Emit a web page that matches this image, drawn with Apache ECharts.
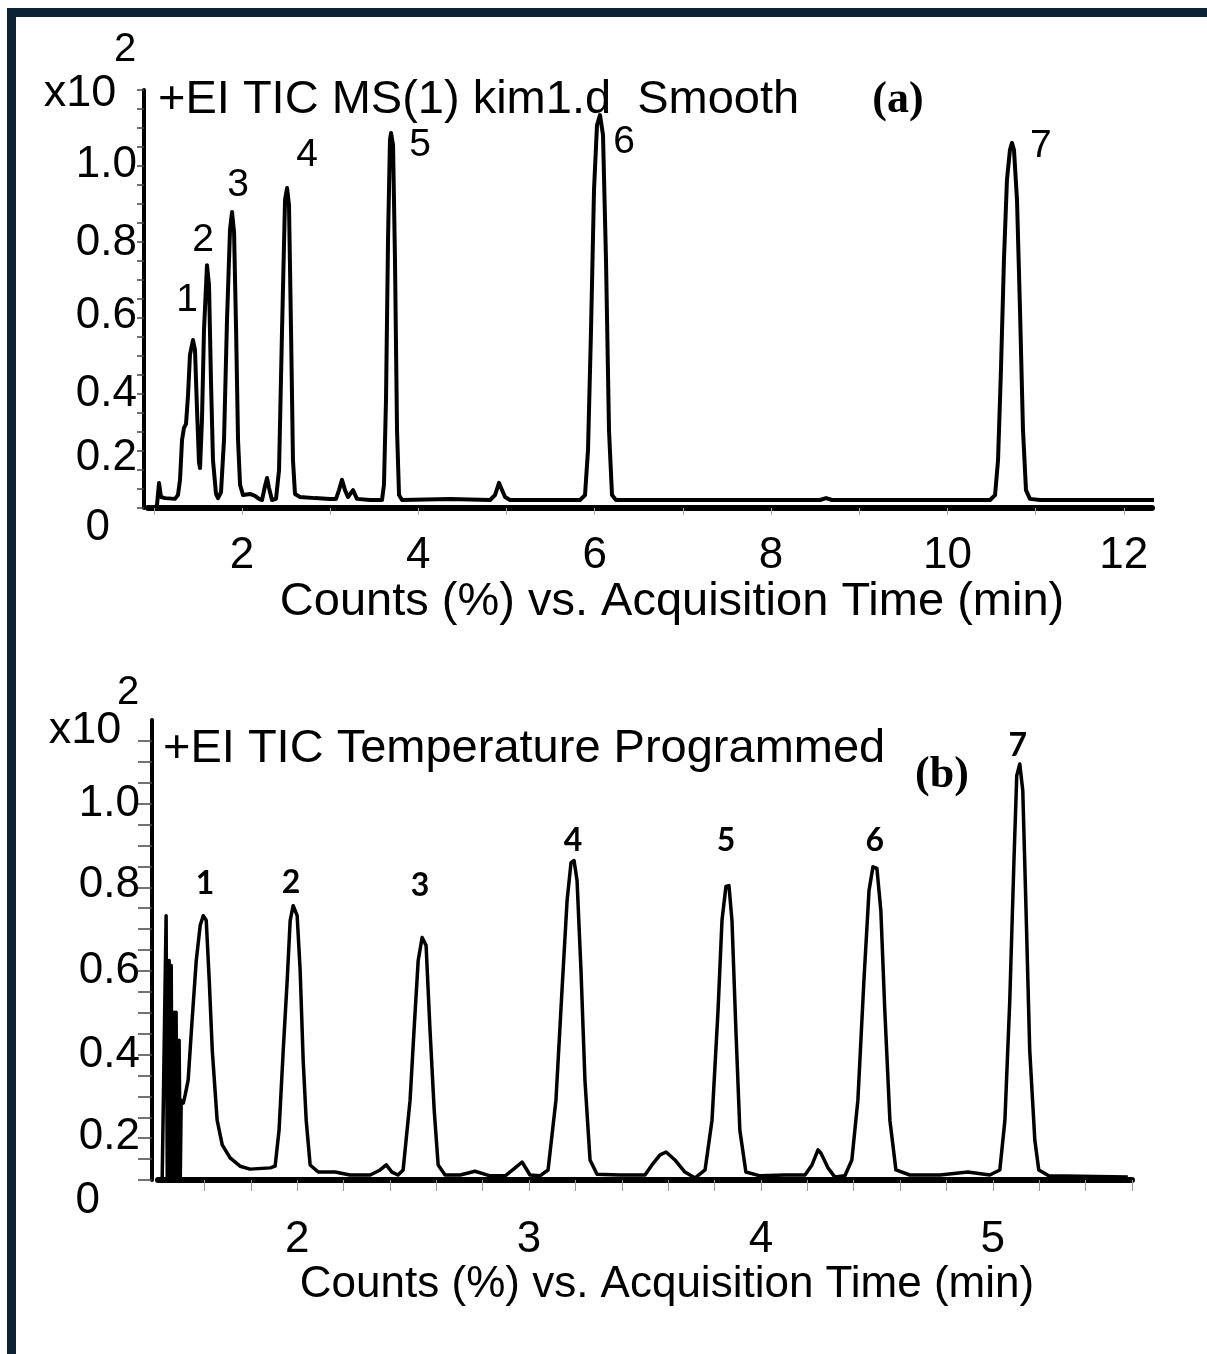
<!DOCTYPE html>
<html><head><meta charset="utf-8">
<script src="https://cdn.jsdelivr.net/npm/echarts@6/dist/echarts.min.js"></script>
<style>html,body{margin:0;padding:0;background:#fff}#c{width:1207px;height:1354px}</style>
</head><body><div id="c"></div>
<script>
// ---------- Panel (a) data ----------
const timeA = [1.013,1.036,1.059,1.081,1.127,1.240,1.274,1.297,1.320,1.342,1.365,1.388,1.410,1.444,1.467,1.490,1.512,1.524,1.546,1.569,1.603,1.626,1.648,1.671,1.705,1.728,1.762,1.796,1.830,1.864,1.887,1.910,1.933,1.955,1.978,2.012,2.091,2.147,2.193,2.227,2.261,2.284,2.306,2.340,2.386,2.420,2.454,2.488,2.511,2.533,2.556,2.578,2.601,2.658,2.828,2.998,3.066,3.100,3.134,3.168,3.202,3.259,3.304,3.451,3.588,3.610,3.633,3.656,3.678,3.690,3.713,3.735,3.758,3.781,3.815,4.359,4.813,4.869,4.915,4.937,4.983,5.039,5.833,5.890,5.924,5.958,5.992,6.026,6.060,6.094,6.128,6.162,6.196,6.241,7.194,8.555,8.623,8.691,10.483,10.540,10.574,10.607,10.641,10.675,10.709,10.732,10.755,10.789,10.823,10.857,10.891,10.936,11.050,12.376];
const valueA = [0.000,0.008,0.066,0.029,0.026,0.024,0.034,0.074,0.179,0.211,0.221,0.297,0.403,0.442,0.416,0.258,0.121,0.105,0.232,0.468,0.639,0.587,0.337,0.126,0.037,0.026,0.042,0.179,0.495,0.732,0.779,0.726,0.468,0.179,0.061,0.034,0.037,0.032,0.024,0.021,0.058,0.079,0.053,0.021,0.024,0.100,0.468,0.811,0.842,0.797,0.468,0.126,0.037,0.029,0.026,0.024,0.024,0.047,0.074,0.047,0.029,0.047,0.024,0.021,0.021,0.061,0.284,0.705,0.968,0.987,0.955,0.653,0.205,0.034,0.021,0.024,0.021,0.034,0.066,0.063,0.029,0.021,0.021,0.034,0.153,0.468,0.837,1.008,1.034,0.982,0.653,0.205,0.034,0.021,0.021,0.021,0.026,0.021,0.021,0.034,0.126,0.363,0.653,0.863,0.942,0.961,0.942,0.811,0.521,0.205,0.047,0.024,0.021,0.021];
const peakNamesA = ['1','2','3','4','5','6','7'];
const peakLabelTimeA = [1.376,1.558,1.955,2.737,4.019,6.332,11.06];
const peakLabelValueA = [0.547,0.705,0.850,0.929,0.955,0.963,0.953];
const xTickLabelsA = [2,4,6,8,10,12];
const xMinorTicksA = [1,2,3,4,5,6,7,8,9,10,11,12];
const yTickLabelsA = ['0','0.2','0.4','0.6','0.8','1.0'];
const yTickValuesA = [0,0.2,0.4,0.6,0.8,1.0];
const yMinorTicksA = [0,0.05,0.1,0.15,0.2,0.25,0.3,0.35,0.4,0.45,0.5,0.55,0.6,0.65,0.7,0.75,0.8,0.85,0.9,0.95,1.0,1.05,1.1];

// ---------- Panel (b) data ----------
const timeB = [1.418,1.435,1.440,1.448,1.453,1.457,1.461,1.470,1.474,1.478,1.483,1.491,1.496,1.500,1.509,1.517,1.530,1.547,1.565,1.582,1.595,1.608,1.621,1.634,1.655,1.677,1.711,1.754,1.797,1.884,1.905,1.922,1.940,1.957,1.970,1.983,2.000,2.013,2.026,2.039,2.056,2.091,2.164,2.228,2.315,2.358,2.384,2.409,2.435,2.457,2.487,2.504,2.522,2.539,2.556,2.573,2.591,2.608,2.638,2.703,2.767,2.832,2.897,2.940,2.970,3.004,3.047,3.082,3.116,3.142,3.164,3.181,3.194,3.207,3.224,3.241,3.263,3.293,3.392,3.500,3.530,3.565,3.591,3.629,3.672,3.716,3.759,3.789,3.815,3.832,3.849,3.862,3.875,3.892,3.909,3.935,3.996,4.103,4.190,4.220,4.246,4.259,4.289,4.319,4.362,4.392,4.418,4.444,4.466,4.483,4.500,4.517,4.534,4.556,4.582,4.642,4.772,4.892,4.987,5.030,5.052,5.073,5.091,5.103,5.116,5.129,5.142,5.159,5.181,5.198,5.241,5.582];
const valueB = [0.000,0.632,0.000,0.525,0.000,0.513,0.000,0.401,0.000,0.401,0.000,0.334,0.000,0.191,0.184,0.203,0.239,0.382,0.525,0.609,0.632,0.621,0.477,0.310,0.143,0.084,0.053,0.033,0.026,0.029,0.033,0.119,0.310,0.477,0.621,0.656,0.632,0.501,0.286,0.143,0.036,0.019,0.019,0.012,0.012,0.024,0.036,0.019,0.012,0.024,0.191,0.358,0.525,0.580,0.561,0.358,0.167,0.036,0.012,0.012,0.021,0.010,0.010,0.029,0.043,0.012,0.010,0.024,0.191,0.453,0.668,0.759,0.764,0.716,0.501,0.239,0.048,0.014,0.012,0.012,0.036,0.060,0.067,0.048,0.019,0.005,0.024,0.143,0.406,0.621,0.702,0.704,0.621,0.358,0.119,0.019,0.010,0.012,0.012,0.036,0.072,0.064,0.029,0.007,0.010,0.048,0.191,0.477,0.692,0.749,0.745,0.644,0.406,0.143,0.024,0.012,0.012,0.019,0.012,0.024,0.143,0.430,0.764,0.967,0.995,0.931,0.668,0.310,0.095,0.024,0.010,0.007];
const peakNamesB = ['1','2','3','4','5','6','7'];
const peakLabelTimeB = [1.603,1.974,2.530,3.190,3.849,4.491,5.108];
const peakLabelValueB = [0.709,0.711,0.704,0.811,0.811,0.811,1.038];
const xTickLabelsB = [2,3,4,5];
const xMinorTicksB = [1.6,1.8,2.0,2.2,2.4,2.6,2.8,3.0,3.2,3.4,3.6,3.8,4.0,4.2,4.4,4.6,4.8,5.0,5.2,5.4,5.6];
const yTickLabelsB = ['0','0.2','0.4','0.6','0.8','1.0'];
const yTickValuesB = [0,0.2,0.4,0.6,0.8,1.0];
const yMinorTicksB = [0,0.05,0.1,0.15,0.2,0.25,0.3,0.35,0.4,0.45,0.5,0.55,0.6,0.65,0.7,0.75,0.8,0.85,0.9,0.95,1.0,1.05];

const titleA = '+EI TIC MS(1) kim1.d  Smooth';
const titleB = '+EI TIC Temperature Programmed';
const xNameText = 'Counts (%) vs. Acquisition Time (min)';

// ---------- build ----------
const SANS = '"Liberation Sans", Arial, sans-serif';
const zip = (a, b) => a.map((v, i) => [v, b[i]]);
const zip3 = (a, b, c) => a.map((v, i) => [v, b[i], c[i]]);

function yLabelRich(pads) {
  const r = {};
  pads.forEach((p, i) => { r['r' + i] = { fontFamily: SANS, fontSize: 44, color: '#000', padding: p }; });
  return r;
}
function yFormatter(values, labels) {
  return v => {
    let i = values.findIndex(x => Math.abs(x - v) < 1e-6);
    if (i < 0) return '';
    return '{r' + i + '|' + labels[i] + '}';
  };
}

const chart = echarts.init(document.getElementById('c'), null, { renderer: 'canvas' });
const option = {
  animation: false,
  backgroundColor: '#fff',
  title: [
    { text: titleA, left: 153, top: 72, textStyle: { fontFamily: SANS, fontSize: 47, fontWeight: 'normal', color: '#000' } },
    { text: titleB, left: 158, top: 721, textStyle: { fontFamily: SANS, fontSize: 47, fontWeight: 'normal', color: '#000' } }
  ],
  grid: [
    { left: 148, right: 55, top: 90, bottom: 846 },
    { left: 158, right: 75, top: 720, bottom: 174 }
  ],
  xAxis: [
    {
      gridIndex: 0, type: 'value', min: 0.934, max: 12.32, offset: 5,
      splitLine: { show: false },
      axisLine: { lineStyle: { color: '#000', width: 6 } },
      axisTick: { show: true, customValues: xMinorTicksA, length: 7, lineStyle: { color: '#aaa', width: 1 } },
      axisLabel: { customValues: xTickLabelsA, margin: 21, fontFamily: SANS, fontSize: 44, color: '#000' },
      name: xNameText, nameLocation: 'middle', nameGap: 62,
      nameTextStyle: { fontFamily: SANS, fontSize: 47, color: '#000', padding: [0, 0, 0, 44] }
    },
    {
      gridIndex: 1, type: 'value', min: 1.4, max: 5.6,
      splitLine: { show: false },
      axisLine: { lineStyle: { color: '#000', width: 6 } },
      axisTick: { show: true, customValues: xMinorTicksB, length: 11, lineStyle: { color: '#999', width: 1 } },
      axisLabel: { customValues: xTickLabelsB, margin: 38, fontFamily: SANS, fontSize: 44, color: '#000' },
      name: xNameText, nameLocation: 'middle', nameGap: 82,
      nameTextStyle: { fontFamily: SANS, fontSize: 44, color: '#000', padding: [0, 0, 0, 44] }
    }
  ],
  yAxis: [
    {
      gridIndex: 0, type: 'value', min: 0, max: 1.1, offset: 4,
      splitLine: { show: false },
      axisLine: { show: true, lineStyle: { color: '#000', width: 4 } },
      axisTick: { show: true, customValues: yMinorTicksA, length: 7, lineStyle: { color: '#444', width: 1.5 } },
      axisLabel: {
        customValues: yTickValuesA, margin: 7,
        formatter: yFormatter(yTickValuesA, yTickLabelsA),
        rich: yLabelRich([[40, 27, 0, 0], [52, 0, 0, 0], [76, 0, 0, 0], [72, 0, 0, 0], [78, 0, 0, 0], [74, 0, 0, 0]])
      }
    },
    {
      gridIndex: 1, type: 'value', min: 0, max: 1.1, offset: 6,
      splitLine: { show: false },
      axisLine: { show: true, lineStyle: { color: '#000', width: 4 } },
      axisTick: { show: true, customValues: yMinorTicksB, length: 14, lineStyle: { color: '#444', width: 1.5 } },
      axisLabel: {
        customValues: yTickValuesB, margin: 12,
        formatter: yFormatter(yTickValuesB, yTickLabelsB),
        rich: yLabelRich([[42, 40, 0, 0], [80, 0, 0, 0], [84, 0, 0, 0], [84, 0, 0, 0], [78, 0, 0, 0], [84, 0, 0, 0]])
      }
    }
  ],
  series: [
    {
      type: 'line', xAxisIndex: 0, yAxisIndex: 0, data: zip(timeA, valueA),
      showSymbol: false, clip: false, smooth: false,
      lineStyle: { color: '#000', width: 4, join: 'round' }
    },
    {
      type: 'line', xAxisIndex: 1, yAxisIndex: 1, data: zip(timeB, valueB),
      showSymbol: false, clip: false, smooth: false,
      lineStyle: { color: '#000', width: 3.5, join: 'round' }
    },
    {
      type: 'scatter', xAxisIndex: 0, yAxisIndex: 0, symbolSize: 0, silent: true,
      itemStyle: { color: '#000' },
      data: zip3(peakLabelTimeA, peakLabelValueA, peakNamesA),
      label: { show: true, position: 'inside', formatter: p => p.data[2], fontFamily: SANS, fontSize: 39, color: '#000', textBorderWidth: 0, opacity: 1 }
    },
    {
      type: 'scatter', xAxisIndex: 1, yAxisIndex: 1, symbolSize: 0, silent: true,
      itemStyle: { color: '#000' },
      data: zip3(peakLabelTimeB, peakLabelValueB, peakNamesB),
      label: { show: true, position: 'inside', formatter: p => p.data[2], fontFamily: 'Lato, "Open Sans", sans-serif', fontWeight: 'bold', fontSize: 32, color: '#000', textBorderWidth: 0, opacity: 1 }
    }
  ],
  graphic: [
    { type: 'rect', shape: { x: 7, y: 8, width: 1200, height: 9 }, style: { fill: '#0b2335' }, silent: true },
    { type: 'rect', shape: { x: 7, y: 8, width: 9, height: 1346 }, style: { fill: '#0b2335' }, silent: true },
    { type: 'text', x: 80, y: 94, style: { text: 'x10', font: '45px ' + SANS, fill: '#000', align: 'center', verticalAlign: 'middle' } },
    { type: 'text', x: 125, y: 50, style: { text: '2', font: '40px ' + SANS, fill: '#000', align: 'center', verticalAlign: 'middle' } },
    { type: 'text', x: 85, y: 731, style: { text: 'x10', font: '45px ' + SANS, fill: '#000', align: 'center', verticalAlign: 'middle' } },
    { type: 'text', x: 128, y: 693, style: { text: '2', font: '40px ' + SANS, fill: '#000', align: 'center', verticalAlign: 'middle' } },
    { type: 'text', x: 898, y: 101, style: { text: '(a)', font: 'bold 44px "Liberation Serif", "Times New Roman", serif', fill: '#000', align: 'center', verticalAlign: 'middle' } },
    { type: 'text', x: 942, y: 776, style: { text: '(b)', font: 'bold 44px "Liberation Serif", "Times New Roman", serif', fill: '#000', align: 'center', verticalAlign: 'middle' } }
  ]
};
chart.setOption(option);
</script></body></html>
